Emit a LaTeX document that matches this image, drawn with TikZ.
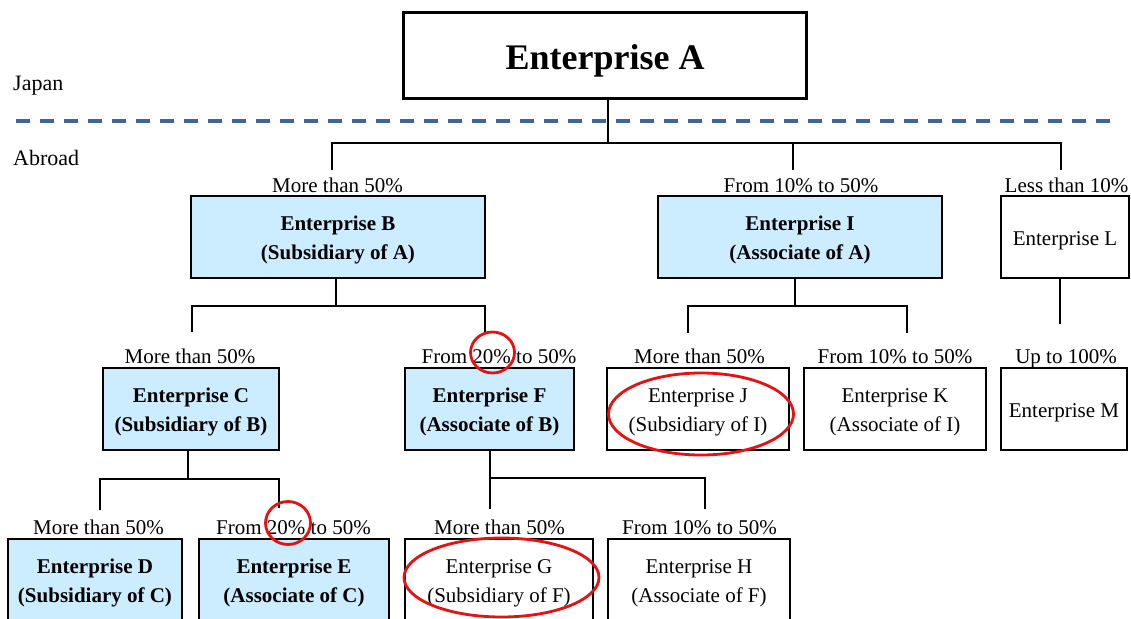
\documentclass[tikz,border=0pt]{standalone}
\usepackage{fontspec}
\setmainfont{Liberation Serif}
\definecolor{boxblue}{RGB}{204,236,255}
\definecolor{borderblue}{RGB}{62,100,152}
\definecolor{markred}{RGB}{232,16,16}
% invisible strut that lowers a two-line block to the visual centre of its box
\newcommand\entstrut{\rule{0pt}{20.5pt}}
\begin{document}
\begin{tikzpicture}[x=1pt,y=-1pt,
  font=\fontsize{21}{28.5}\selectfont,
  ent/.style={draw=black, line width=2pt, inner sep=0pt, align=center},
  subbox/.style={ent, fill=boxblue, font=\fontsize{21}{28.5}\selectfont\bfseries},
  plainbox/.style={ent, fill=white},
  oneline/.style={text height=17pt, text depth=0pt},
  share/.style={anchor=base, inner sep=0pt},
  conn/.style={draw=black, line width=2pt},
  hilite/.style={draw=markred, line width=2.8pt},
  region/.style={anchor=base west, inner sep=0pt, font=\fontsize{22}{26}\selectfont}]
\useasboundingbox (0,0) rectangle (1131,618);

% ---- parent enterprise in Japan ----
\node[draw=black, line width=2.6pt, minimum width=404pt, minimum height=87pt, inner sep=0pt,
      text height=27.5pt, text depth=0pt,
      font=\fontsize{36}{40}\selectfont\bfseries] (A) at (605,55.5) {Enterprise A};
\draw[line width=1pt] ([shift={(3.2pt,-3.2pt)}]A.north west) rectangle ([shift={(-3.2pt,3.2pt)}]A.south east);

% ---- border between Japan and abroad ----
\node[region] (japan) at (13,90) {Japan};
\node[region] (abroad) at (13,165) {Abroad};
\coordinate (bl) at (16,121);
\coordinate (br) at (1112,121);
\draw[borderblue, line width=3.6pt, dash pattern=on 14pt off 10pt] (bl) -- (br);

% ---- first tier ----
\node[subbox, minimum width=294pt, minimum height=82pt] (B) at (338,237) {\entstrut Enterprise B\\(Subsidiary of A)};
\node[subbox, minimum width=284pt, minimum height=82pt] (I) at (800,237) {\entstrut Enterprise I\\(Associate of A)};
\node[plainbox, oneline, minimum width=128pt, minimum height=82pt] (L) at (1065,237) {Enterprise L};
\node[share] (lB) at (337.5,192) {More than 50\%};
\node[share] (lI) at (801,192) {From 10\% to 50\%};
\node[share] (lL) at (1066.5,192) {Less than 10\%};

% ---- second tier ----
\node[subbox, minimum width=176pt, minimum height=82pt] (C) at (191,409) {\entstrut Enterprise C\\(Subsidiary of B)};
\node[subbox, minimum width=169pt, minimum height=82pt] (F) at (489.5,409) {\entstrut Enterprise F\\(Associate of B)};
\node[plainbox, minimum width=182pt, minimum height=82pt] (J) at (698,409) {\entstrut Enterprise J\\(Subsidiary of I)};
\node[plainbox, minimum width=182pt, minimum height=82pt] (K) at (895,409) {\entstrut Enterprise K\\(Associate of I)};
\node[plainbox, oneline, minimum width=126pt, minimum height=82pt] (M) at (1064,409) {Enterprise M};
\node[share] (lC) at (190,363) {More than 50\%};
\node[share] (lF) at (499,363) {From 20\% to 50\%};
\node[share] (lJ) at (699.5,363) {More than 50\%};
\node[share] (lK) at (895,363) {From 10\% to 50\%};
\node[share] (lM) at (1066,363) {Up to 100\%};

% ---- third tier ----
\node[subbox, minimum width=174pt, minimum height=82pt] (D) at (95,580) {\entstrut Enterprise D\\(Subsidiary of C)};
\node[subbox, minimum width=190pt, minimum height=82pt] (E) at (294,580) {\entstrut Enterprise E\\(Associate of C)};
\node[plainbox, minimum width=188pt, minimum height=82pt] (G) at (499,580) {\entstrut Enterprise G\\(Subsidiary of F)};
\node[plainbox, minimum width=182pt, minimum height=82pt] (H) at (699,580) {\entstrut Enterprise H\\(Associate of F)};
\node[share] (lD) at (98.5,534) {More than 50\%};
\node[share] (lE) at (293.5,534) {From 20\% to 50\%};
\node[share] (lG) at (499.5,534) {More than 50\%};
\node[share] (lH) at (699.5,534) {From 10\% to 50\%};

% ---- ownership connectors ----
% A to its direct holdings
\coordinate (tB) at (332,170);
\coordinate (tI) at (793,170);
\coordinate (tL) at (1061,170);
\coordinate (busA) at (608,143);
\draw[conn] ([xshift=3pt]A.south) -- (busA);
\draw[conn] (tB) -- (tB |- busA) -- (tL |- busA) -- (tL);
\draw[conn] (tI) -- (tI |- busA);

% B to C and F
\coordinate (tC) at (192,332);
\coordinate (tF) at (485,332);
\coordinate (busB) at (336,306);
\draw[conn] ([xshift=-2pt]B.south) -- (busB);
\draw[conn] (tC) -- (tC |- busB) -- (tF |- busB) -- (tF);

% I to J and K
\coordinate (tJ) at (688,333);
\coordinate (tK) at (907,333);
\coordinate (busI) at (795,306);
\draw[conn] (I.south -| busI) -- (busI);
\draw[conn] (tJ) -- (tJ |- busI) -- (tK |- busI) -- (tK);

% L to M
\coordinate (tM) at (1060,324);
\draw[conn] (L.south -| tM) -- (tM);

% C to D and E
\coordinate (tD) at (100,510);
\coordinate (tE) at (279,508);
\coordinate (busC) at (188,479);
\draw[conn] (C.south -| busC) -- (busC);
\draw[conn] (tD) -- (tD |- busC) -- (tE |- busC) -- (tE);

% F to G and H
\coordinate (tG) at (490,509);
\coordinate (tH) at (705,509);
\draw[conn] (F.south -| tG) -- (tG);
\draw[conn] (tG |- 0,478) -- (tH |- 0,478) -- (tH);

% ---- highlights ----
\draw[hilite] (492.5,352.5) ellipse [x radius=22pt, y radius=20.5pt];
\draw[hilite] (288,523) ellipse [x radius=22.5pt, y radius=21.5pt];
\draw[hilite] (701,414) ellipse [x radius=92.5pt, y radius=41pt];
\draw[hilite] (501.5,577.5) ellipse [x radius=97.5pt, y radius=39.5pt];
\end{tikzpicture}
\end{document}
